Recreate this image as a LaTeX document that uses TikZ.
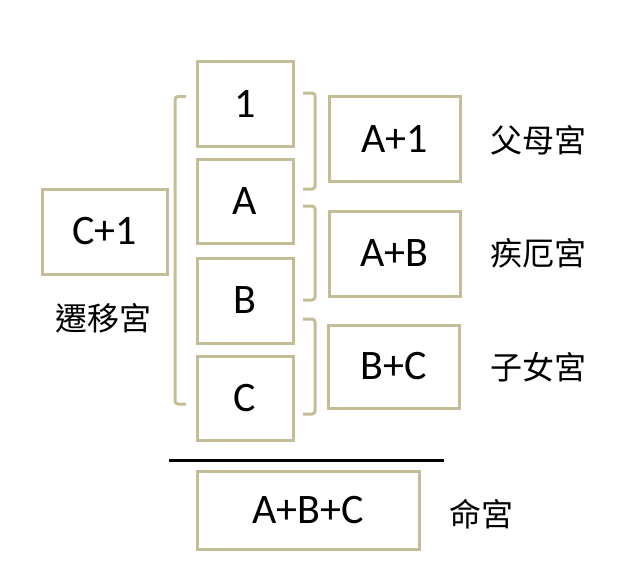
\documentclass[tikz,border=0pt]{standalone}
\usepackage{fontspec}
\setmainfont{Carlito}
\newfontfamily\cjk{Noto Sans CJK TC}
\definecolor{tan}{RGB}{196,189,151}
\begin{document}
\begin{tikzpicture}[x=1pt,y=-1pt,
  box/.style={draw=tan, line width=3pt, rectangle, inner sep=0pt,
    font=\fontsize{42}{50}\selectfont},
  lbl/.style={font=\cjk\fontsize{32}{38}\selectfont, inner sep=0pt},
  brk/.style={draw=tan, line width=3pt, rounded corners=3pt}]
\useasboundingbox (0,0) rectangle (638,587);
\node[box, minimum width=96pt, minimum height=85pt] (one) at (245,103.5) {1};
\node[box, minimum width=96pt, minimum height=84pt] (a) at (245,201) {A};
\node[box, minimum width=96pt, minimum height=85pt] (b) at (245,300.5) {B};
\node[box, minimum width=96pt, minimum height=84pt] (c) at (245,398) {C};
\node[box, minimum width=131pt, minimum height=85pt] (a1) at (394.5,138.5) {A+1};
\node[box, minimum width=131pt, minimum height=85pt] (ab) at (394.5,253.5) {A+B};
\node[box, minimum width=131pt, minimum height=83pt] (bc) at (393.5,366.5) {B+C};
\node[box, minimum width=222pt, minimum height=78pt] (abc) at (308,510) {A+B+C};
\node[box, minimum width=125pt, minimum height=85pt] (c1) at (104.5,231.5) {C+1};
\node[lbl] (l1) at (538,140) {父母宮};
\node[lbl] (l2) at (538,253) {疾厄宮};
\node[lbl] (l3) at (538,367) {子女宮};
\node[lbl] (l4) at (481,514) {命宮};
\node[lbl] (l5) at (104,318) {遷移宮};
\draw[brk] (186,96.5) -- (175,96.5) -- (175,404) -- (186,404);
\draw[brk] (303,93) -- (315,93) -- (315,189) -- (303,189);
\draw[brk] (303,206) -- (315,206) -- (315,300) -- (303,300);
\draw[brk] (303,319) -- (315,319) -- (315,414) -- (303,414);
\draw[line width=3pt] (169,460) -- (444,460);
\end{tikzpicture}
\end{document}
